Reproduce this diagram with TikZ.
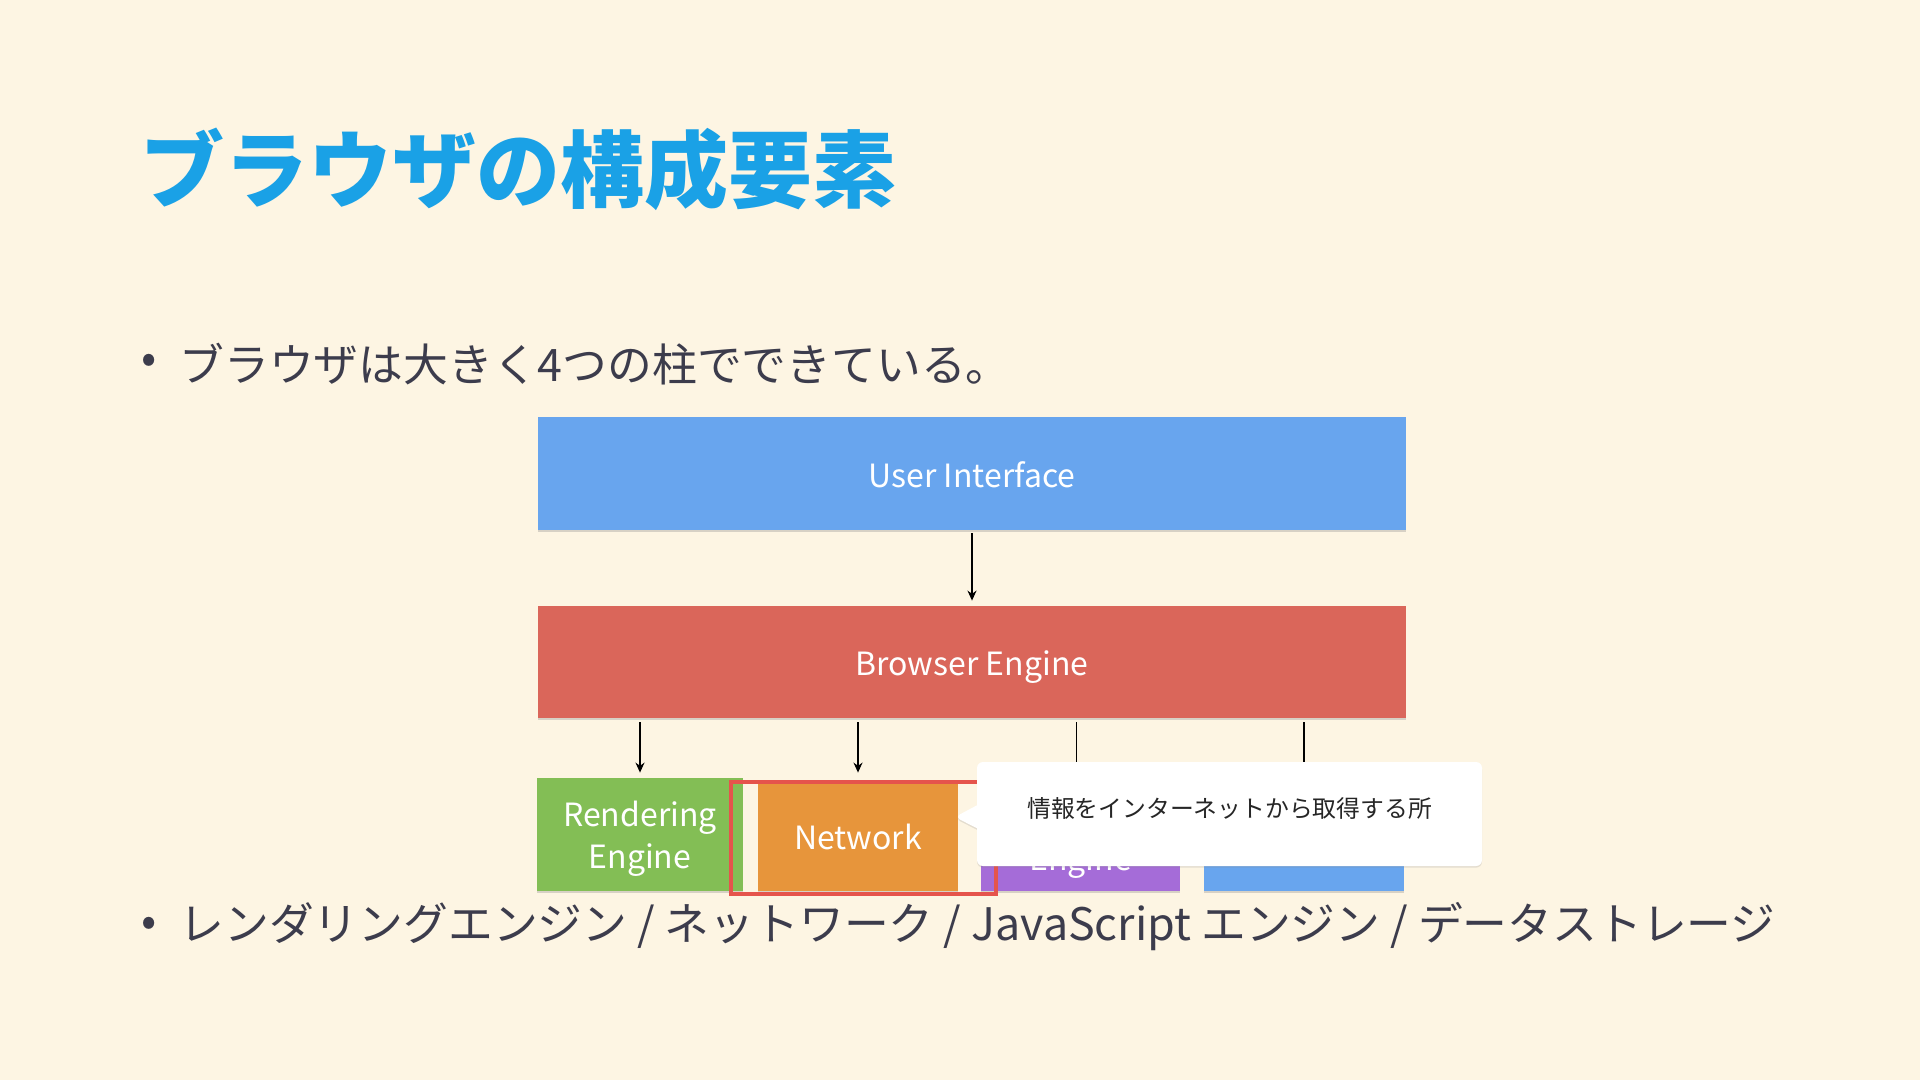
\documentclass[tikz,border=0pt]{standalone}
\usepackage{fontspec}
\setmainfont{Noto Sans CJK JP}
\usetikzlibrary{arrows.meta,shadows,shapes.callouts}
\definecolor{bg}{HTML}{FDF5E3}
\definecolor{titleblue}{HTML}{1AA1E6}
\definecolor{ink}{HTML}{3C3C4C}
\definecolor{uiblue}{HTML}{68A5EE}
\definecolor{bered}{HTML}{DA665A}
\definecolor{rgreen}{HTML}{83BE55}
\definecolor{norange}{HTML}{E7953B}
\definecolor{jpurple}{HTML}{A56CD8}
\definecolor{hlred}{HTML}{E5544C}
\begin{document}
\begin{tikzpicture}[x=0.5pt,y=-0.5pt,
  compbox/.style={rectangle, inner sep=0pt, text=white, align=center,
    font=\fontsize{16}{21}\selectfont,
    drop shadow={shadow xshift=0pt, shadow yshift=-1pt, opacity=0.3}},
  oneline/.style={text height=13.6pt, text depth=0pt},
  twoline/.style={text height=34.4pt, text depth=0pt},
  arr/.style={line width=0.75pt, -{Stealth[length=5pt,width=4.5pt]}},
  bullettext/.style={anchor=west, inner sep=0pt, text=ink, font=\fontsize{22.4}{27}\selectfont},
  dot/.style={inner sep=0pt, text=ink, font=\fontsize{22.4}{27}\selectfont}
]
\useasboundingbox[fill=bg] (0,0) rectangle (1920,1080);

% title
\node[anchor=west, inner sep=0pt, text=titleblue, font=\fontsize{42}{48}\selectfont\bfseries] (title) at (140,169) {ブラウザの構成要素};

% bullet 1
\node[dot] (b1) at (149,364) {•};
\node[bullettext] (t1) at (179,364) {ブラウザは大きく4つの柱でできている。};

% boxes
\node[compbox, oneline, fill=uiblue, minimum width=434pt, minimum height=56.5pt] (ui) at (972,473.5) {User Interface};
\node[compbox, oneline, fill=bered, minimum width=434pt, minimum height=56pt] (be) at (972,662) {Browser Engine};
\node[compbox, twoline, fill=rgreen, minimum width=103pt, minimum height=56.5pt] (rend) at (640,834.5) {Rendering\\Engine};
\node[compbox, oneline, fill=norange, minimum width=100pt, minimum height=55pt] (net) at (858,836) {Network};
\node[compbox, twoline, fill=jpurple, minimum width=99.5pt, minimum height=54.5pt] (js) at (1080.5,836.5) {JavaScript\\Engine};
\node[compbox, fill=uiblue, minimum width=100pt, minimum height=54.5pt] (ds) at (1304,836.5) {};

% connectors
\draw[arr, shorten <=1.5pt, shorten >=2.5pt] (ui.south) -- (be.north);
\draw[arr, shorten <=2pt, shorten >=2.5pt] (be.south -| rend.north) -- (rend.north);
\draw[arr, shorten <=2pt, shorten >=4pt] (be.south -| net.north) -- (net.north);
\draw[arr, shorten <=2pt, shorten >=4pt] ([xshift=-2pt]be.south -| js.north) -- ([xshift=-2pt]js.north);
\draw[arr, shorten <=2pt, shorten >=4pt] (be.south -| ds.north) -- (ds.north);

% highlight
\draw[hlred, line width=1.6pt] (731,782) rectangle (996,894);

% callout
\coordinate (tip) at (955,817);
\node[rectangle callout, callout absolute pointer={(tip)}, callout pointer width=11.5pt,
  fill=white, rounded corners=3pt, inner sep=0pt,
  minimum width=252.5pt, minimum height=52pt,
  text height=10pt, text depth=7pt,
  drop shadow={shadow xshift=0pt, shadow yshift=-0.8pt, opacity=0.2},
  font=\fontsize{11.9}{14}\selectfont, text=black!85] (note) at (1229.5,814) {情報をインターネットから取得する所};

% bullet 2
\node[dot] (b2) at (149,927) {•};
\node[bullettext] (t2) at (179,927) {レンダリングエンジン / ネットワーク / JavaScript エンジン / データストレージ};
\end{tikzpicture}
\end{document}
